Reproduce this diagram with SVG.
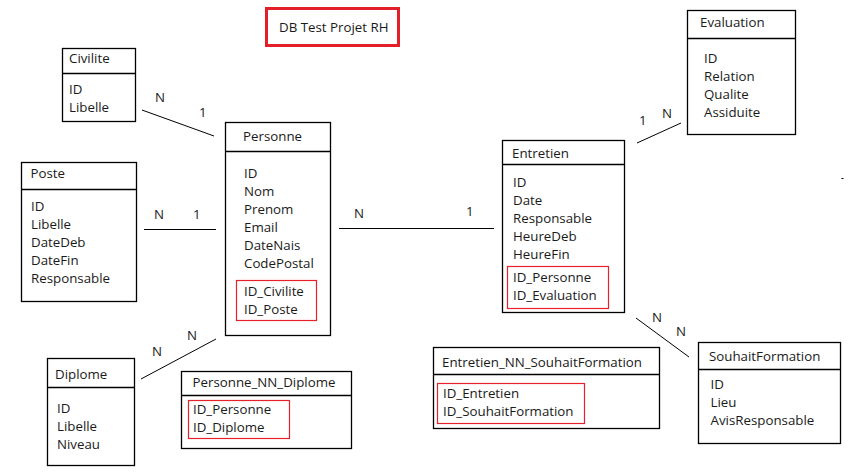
<svg xmlns="http://www.w3.org/2000/svg" width="857" height="473" viewBox="0 0 857 473">
<style>
text{font-family:"Open Sans","Liberation Sans",sans-serif;font-size:13.3px;fill:#1a1a1a}
.box{fill:#fff;stroke:#000;stroke-width:1.3}
.div{stroke:#000;stroke-width:1.3}
.fk{fill:none;stroke:#e8202a;stroke-width:1.2}
.conn line{stroke:#000;stroke-width:1}
</style>
<rect width="857" height="473" fill="#fff"/>
<g id="title">
<rect x="266.5" y="8.5" width="132" height="37" fill="none" stroke="#e3202a" stroke-width="3"/>
<text x="279" y="31.5">DB Test Projet RH</text>
</g>
<g class="conn" id="connectors">
<line x1="142" y1="110" x2="214" y2="136"/>
<line x1="144" y1="229.5" x2="216" y2="229.5"/>
<line x1="339" y1="228.5" x2="494" y2="228.5"/>
<line x1="141" y1="379" x2="216" y2="339"/>
<line x1="637" y1="143" x2="681" y2="123"/>
<line x1="636" y1="318" x2="689" y2="357"/>
<line x1="841.5" y1="178.5" x2="843.5" y2="178.5"/>
<text x="155" y="102">N</text>
<text x="199" y="117">1</text>
<text x="154" y="219">N</text>
<text x="193" y="219">1</text>
<text x="354" y="218">N</text>
<text x="466" y="216">1</text>
<text x="152" y="356">N</text>
<text x="187" y="340">N</text>
<text x="639" y="125">1</text>
<text x="662" y="118">N</text>
<text x="652" y="322">N</text>
<text x="676" y="336">N</text>
</g>
<g id="Civilite">
<rect class="box" x="62.5" y="48.5" width="73" height="73"/>
<line class="div" x1="62.5" y1="73.5" x2="135.5" y2="73.5"/>
<text x="69" y="63">Civilite</text>
<text x="69" y="94">ID</text>
<text x="69" y="112">Libelle</text>
</g>
<g id="Personne">
<rect class="box" x="225.5" y="122.5" width="105" height="213"/>
<line class="div" x1="225.5" y1="151.5" x2="330.5" y2="151.5"/>
<text x="243" y="141">Personne</text>
<text x="244" y="177.5">ID</text>
<text x="244" y="195.5">Nom</text>
<text x="244" y="213.5">Prenom</text>
<text x="244" y="231.5">Email</text>
<text x="244" y="249.5">DateNais</text>
<text x="244" y="267.5">CodePostal</text>
<rect class="fk" x="236.5" y="280.5" width="80" height="40"/>
<text x="244" y="295.5">ID_Civilite</text>
<text x="244" y="313.5">ID_Poste</text>
</g>
<g id="Poste">
<rect class="box" x="21.5" y="162.5" width="115" height="139"/>
<line class="div" x1="21.5" y1="189.5" x2="136.5" y2="189.5"/>
<text x="30.5" y="177.5">Poste</text>
<text x="31" y="211">ID</text>
<text x="31" y="229">Libelle</text>
<text x="31" y="247">DateDeb</text>
<text x="31" y="265">DateFin</text>
<text x="31" y="283">Responsable</text>
</g>
<g id="Entretien">
<rect class="box" x="502.5" y="140.5" width="122" height="172"/>
<line class="div" x1="502.5" y1="164.5" x2="624.5" y2="164.5"/>
<text x="512" y="157.5">Entretien</text>
<text x="513" y="186.5">ID</text>
<text x="513" y="204.5">Date</text>
<text x="513" y="222.5">Responsable</text>
<text x="513" y="240.5">HeureDeb</text>
<text x="513" y="258.5">HeureFin</text>
<rect class="fk" x="507.5" y="266.5" width="101" height="42"/>
<text x="513" y="282">ID_Personne</text>
<text x="513" y="300">ID_Evaluation</text>
</g>
<g id="Evaluation">
<rect class="box" x="687.5" y="10.5" width="108" height="124"/>
<line class="div" x1="687.5" y1="38.5" x2="795.5" y2="38.5"/>
<text x="700" y="27">Evaluation</text>
<text x="704" y="63">ID</text>
<text x="704" y="81">Relation</text>
<text x="704" y="99">Qualite</text>
<text x="704" y="117">Assiduite</text>
</g>
<g id="SouhaitFormation">
<rect class="box" x="698.5" y="342.5" width="142" height="101"/>
<line class="div" x1="698.5" y1="369.5" x2="840.5" y2="369.5"/>
<text x="709" y="361">SouhaitFormation</text>
<text x="710.5" y="388.5">ID</text>
<text x="710.5" y="406.5">Lieu</text>
<text x="710.5" y="424.5">AvisResponsable</text>
</g>
<g id="Entretien_NN_SouhaitFormation">
<rect class="box" x="433.5" y="347.5" width="226" height="81"/>
<line class="div" x1="433.5" y1="374.5" x2="659.5" y2="374.5"/>
<text x="442" y="367">Entretien_NN_SouhaitFormation</text>
<rect class="fk" x="437.5" y="383.5" width="147" height="40"/>
<text x="443" y="398">ID_Entretien</text>
<text x="443" y="416">ID_SouhaitFormation</text>
</g>
<g id="Diplome">
<rect class="box" x="47.5" y="358.5" width="87" height="107"/>
<line class="div" x1="47.5" y1="387.5" x2="134.5" y2="387.5"/>
<text x="55" y="378.5">Diplome</text>
<text x="57" y="412.5">ID</text>
<text x="57" y="430.5">Libelle</text>
<text x="57" y="448.5">Niveau</text>
</g>
<g id="Personne_NN_Diplome">
<rect class="box" x="181.5" y="371.5" width="170" height="77"/>
<line class="div" x1="181.5" y1="395.5" x2="351.5" y2="395.5"/>
<text x="192.5" y="387">Personne_NN_Diplome</text>
<rect class="fk" x="188.5" y="400.5" width="101" height="38"/>
<text x="193" y="413.5">ID_Personne</text>
<text x="193" y="432">ID_Diplome</text>
</g>
</svg>
